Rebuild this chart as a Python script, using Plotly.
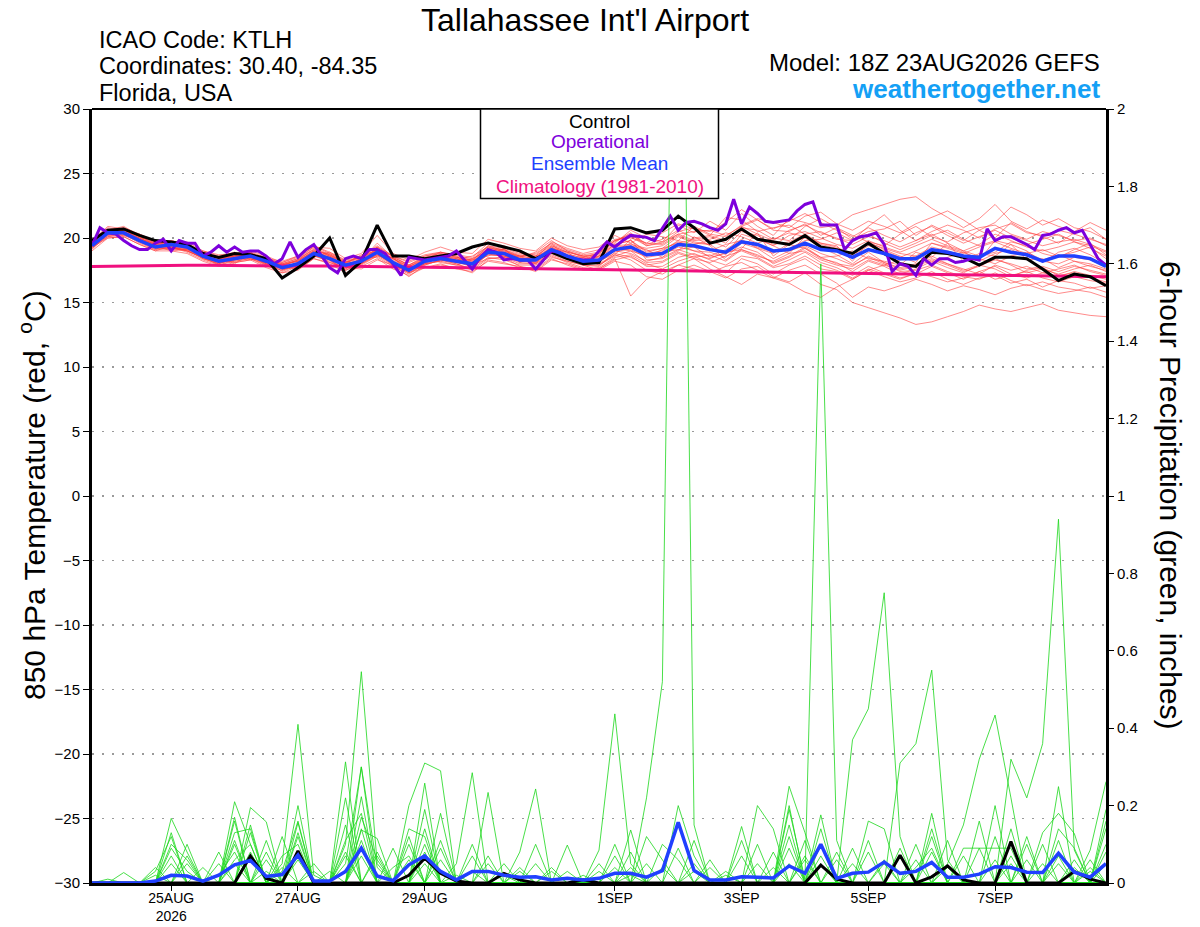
import plotly.graph_objects as go
import pandas as pd

FONT = "Liberation Sans, Arial, Helvetica, sans-serif"

# ---------------- time axes ----------------
times = pd.date_range("2026-08-23 18:00", periods=65, freq="6h")
times_3h = pd.date_range("2026-08-23 18:00", periods=129, freq="3h")
tick_dates = ["2026-08-25", "2026-08-27", "2026-08-29", "2026-09-01",
              "2026-09-03", "2026-09-05", "2026-09-07"]
tick_labels = ["25AUG<br>2026", "27AUG", "29AUG", "1SEP", "3SEP", "5SEP", "7SEP"]

# ---------------- 850 hPa temperature (deg C) ----------------
control_temp = [
    19.8, 20.6, 20.7, 20.2, 19.8, 19.7, 19.5, 18.8, 18.5, 18.8, 18.7, 18.4, 16.9,
    17.7, 18.6, 20.0, 17.1, 18.2, 21.0, 18.6, 18.6, 18.4, 18.6, 18.8, 19.3, 19.6,
    19.3, 19.0, 18.4, 18.9, 18.4, 18.0, 18.1, 20.7, 20.8, 20.4, 20.6, 21.7, 20.8,
    19.6, 19.9, 20.7, 19.9, 19.7, 19.5, 20.2, 19.3, 19.1, 18.8, 19.6, 18.8, 18.0,
    17.8, 18.9, 18.8, 18.5, 17.9, 18.5, 18.5, 18.4, 17.6, 16.7, 17.2, 17.0, 16.3]

mean_temp = [
    19.4, 20.4, 20.4, 19.8, 19.3, 19.5, 19.3, 18.6, 18.2, 18.4, 18.6, 18.2, 17.7,
    18.0, 18.8, 18.4, 17.9, 18.2, 18.9, 18.1, 17.5, 18.2, 18.4, 18.2, 18.0, 18.9,
    18.8, 18.3, 18.3, 19.1, 18.6, 18.2, 18.3, 19.1, 19.3, 18.7, 18.8, 19.5, 19.4,
    19.1, 18.9, 19.7, 19.5, 19.0, 19.1, 19.6, 19.1, 19.0, 18.5, 19.1, 18.8, 18.4,
    18.4, 19.1, 18.9, 18.6, 18.5, 19.2, 18.9, 18.7, 18.2, 18.6, 18.6, 18.4, 17.8]

# operational run, 3-hourly
operational_temp = [
    19.4, 20.8, 20.4, 20.3, 19.8, 19.4, 19.1, 19.1, 19.6, 19.9, 19.0, 19.8, 19.6,
    19.6, 18.6, 18.9, 19.4, 18.9, 19.3, 18.9, 19.0, 19.0, 18.6, 18.0, 18.4, 19.7,
    18.5, 19.1, 19.5, 18.6, 17.7, 17.3, 18.4, 18.6, 18.4, 19.1, 19.1, 18.8, 18.0,
    17.1, 18.5, 18.4, 18.3, 18.4, 18.5, 18.6, 19.0, 18.3, 17.6, 18.5, 19.1, 18.9,
    18.3, 18.4, 18.3, 18.3, 17.6, 18.3, 19.0, 18.9, 18.6, 18.4, 18.3, 18.3, 19.0,
    19.7, 19.3, 19.8, 20.2, 20.1, 20.05, 19.8, 20.8, 21.7, 20.6, 21.2, 21.3, 21.1,
    20.8, 20.6, 21.1, 23.0, 21.1, 22.4, 21.9, 21.3, 21.2, 21.3, 21.4, 22.1, 22.6,
    22.8, 21.0, 21.0, 21.0, 19.1, 19.8, 20.1, 20.2, 20.4, 19.5, 17.4, 18.0, 17.8,
    17.1, 18.4, 17.9, 18.4, 18.4, 18.1, 18.2, 18.4, 18.3, 20.7, 19.8, 20.1, 20.1,
    19.8, 19.5, 19.1, 20.2, 20.3, 20.6, 20.8, 20.4, 20.6, 19.5, 18.4, 17.9]

climatology_temp = [
    17.80, 17.82, 17.84, 17.85, 17.86, 17.87, 17.88, 17.88, 17.88, 17.88, 17.87, 17.86, 17.85,
    17.84, 17.83, 17.82, 17.81, 17.80, 17.78, 17.77, 17.75, 17.74, 17.72, 17.71, 17.69, 17.68,
    17.66, 17.64, 17.63, 17.61, 17.59, 17.57, 17.56, 17.54, 17.52, 17.50, 17.48, 17.46, 17.44,
    17.42, 17.40, 17.38, 17.36, 17.34, 17.33, 17.31, 17.29, 17.27, 17.25, 17.24, 17.22, 17.20,
    17.19, 17.17, 17.16, 17.14, 17.13, 17.11, 17.10, 17.08, 17.07, 17.05, 17.04, 17.02, 17.00]

member_temps = [
    [19.6, 20.5, 20.6, 20.0, 19.5, 19.3, 19.0, 18.5, 18.0, 18.6, 18.9, 18.0, 17.8,
     18.3, 19.1, 18.6, 17.8, 18.4, 19.2, 18.3, 17.6, 18.0, 18.6, 18.5, 18.2, 19.4,
     19.0, 18.6, 18.0, 19.4, 18.9, 18.0, 18.6, 19.5, 19.8, 19.0, 19.2, 20.1, 19.6,
     19.5, 18.7, 20.3, 19.9, 19.4, 18.8, 20.1, 19.6, 19.4, 18.2, 19.7, 19.1, 18.6,
     18.1, 19.6, 19.3, 18.9, 18.3, 19.8, 19.5, 19.0, 18.1, 18.9, 19.2, 18.7, 18.0],
    [19.2, 20.2, 20.3, 19.6, 19.1, 19.8, 19.5, 18.9, 18.4, 18.1, 18.3, 18.5, 17.6,
     17.7, 18.5, 18.9, 18.2, 17.9, 18.6, 18.5, 17.4, 18.5, 18.1, 17.9, 18.3, 18.6,
     19.2, 18.1, 18.6, 18.8, 18.3, 18.5, 17.9, 18.7, 19.9, 18.3, 18.4, 19.0, 20.1,
     19.4, 18.3, 19.2, 20.4, 18.6, 19.5, 19.2, 18.5, 18.6, 19.0, 18.4, 18.2, 17.9,
     18.9, 18.5, 19.6, 18.2, 18.8, 18.6, 19.5, 18.3, 18.4, 17.7, 18.2, 18.0, 17.6],
    [19.8, 20.8, 20.5, 19.9, 19.6, 19.4, 19.6, 18.7, 18.3, 18.7, 18.6, 18.4, 17.9,
     18.2, 19.0, 18.3, 17.5, 18.0, 19.3, 18.0, 17.8, 18.3, 18.9, 18.6, 17.7, 19.1,
     18.5, 18.6, 18.8, 19.6, 18.4, 18.2, 18.9, 19.8, 20.3, 19.4, 19.6, 20.5, 20.8,
     20.2, 19.8, 20.9, 21.4, 20.6, 20.5, 21.1, 20.2, 20.8, 19.9, 20.5, 20.7, 21.3,
     20.2, 21.0, 20.4, 19.8, 20.6, 20.0, 21.2, 20.5, 20.1, 19.6, 20.4, 20.8, 19.9],
    [19.4, 20.1, 20.2, 19.7, 19.2, 19.1, 19.2, 18.4, 18.1, 18.2, 18.4, 17.8, 17.5,
     18.0, 18.7, 18.1, 17.6, 18.5, 18.5, 17.8, 17.2, 18.0, 18.2, 18.4, 17.9, 18.4,
     18.5, 17.8, 17.6, 18.5, 18.2, 17.9, 17.5, 18.2, 17.9, 17.0, 16.8, 17.5, 17.9,
     17.4, 16.9, 17.6, 17.8, 17.0, 16.6, 17.3, 16.4, 16.0, 15.0, 14.6, 14.2, 13.8,
     13.3, 13.5, 13.9, 14.3, 14.8, 14.5, 14.3, 14.6, 14.9, 14.4, 14.2, 14.0, 13.9],
    [19.5, 20.6, 20.9, 20.2, 19.4, 19.0, 19.1, 18.8, 18.5, 18.0, 18.8, 18.3, 17.4,
     17.9, 18.8, 18.5, 18.0, 18.7, 19.0, 18.4, 17.6, 18.2, 18.7, 18.1, 18.4, 19.0,
     19.1, 18.4, 18.5, 19.2, 18.9, 18.6, 18.2, 19.3, 19.4, 19.1, 18.5, 19.5, 19.0,
     18.6, 19.1, 19.9, 19.2, 18.8, 19.6, 20.0, 19.3, 18.7, 18.0, 18.9, 18.1, 17.6,
     17.9, 18.6, 18.0, 17.6, 17.2, 17.9, 17.5, 17.8, 17.3, 17.6, 17.9, 17.4, 17.1],
    [19.7, 20.3, 20.7, 20.1, 19.7, 19.6, 19.4, 18.6, 18.3, 18.6, 18.5, 18.1, 18.0,
     18.4, 19.3, 18.7, 18.0, 18.3, 19.6, 18.5, 17.9, 18.4, 18.6, 18.3, 18.6, 19.3,
     18.9, 18.5, 18.9, 19.8, 19.0, 18.5, 18.8, 19.7, 20.4, 19.5, 19.9, 20.6, 20.0,
     20.2, 21.6, 21.4, 20.5, 20.8, 21.0, 20.3, 20.5, 19.9, 19.8, 20.9, 21.8, 20.6,
     19.8, 20.3, 19.6, 19.0, 18.6, 18.9, 19.7, 19.4, 18.8, 18.5, 19.1, 19.6, 18.7],
    [19.3, 20.0, 20.1, 19.5, 19.0, 19.4, 19.0, 18.5, 17.9, 18.2, 18.4, 18.0, 17.8,
     17.6, 18.4, 18.1, 17.7, 17.6, 18.3, 17.9, 17.3, 17.7, 18.0, 17.6, 17.4, 18.2,
     18.0, 17.8, 17.4, 18.3, 18.0, 17.6, 17.7, 18.5, 18.7, 18.0, 17.6, 18.2, 18.6,
     18.0, 17.3, 18.4, 18.0, 17.2, 17.9, 18.4, 17.6, 17.4, 16.8, 17.5, 17.0, 16.6,
     16.9, 17.4, 16.8, 16.4, 16.9, 17.1, 16.5, 16.8, 16.2, 16.7, 16.5, 16.1, 16.3],
    [19.9, 20.7, 20.4, 20.3, 19.8, 19.5, 19.7, 19.0, 18.6, 18.9, 18.3, 18.4, 18.2,
     18.6, 19.4, 18.9, 18.3, 18.5, 19.1, 18.6, 18.2, 18.7, 18.9, 18.7, 18.5, 19.6,
     19.4, 18.9, 18.4, 19.7, 19.2, 18.8, 19.1, 19.9, 20.0, 19.6, 19.5, 20.3, 19.8,
     19.9, 20.4, 20.1, 19.6, 20.0, 19.8, 20.9, 21.5, 20.8, 20.2, 19.7, 19.4, 20.3,
     20.9, 20.1, 19.7, 20.4, 20.8, 21.0, 20.3, 19.9, 20.5, 20.2, 19.8, 20.0, 19.4],
    [19.1, 20.4, 20.8, 19.8, 19.3, 19.3, 18.9, 18.3, 17.9, 18.3, 18.6, 17.9, 17.3,
     17.8, 18.9, 18.4, 17.9, 18.0, 18.8, 17.9, 17.0, 17.9, 18.3, 18.0, 17.6, 18.8,
     18.7, 18.3, 18.2, 19.0, 18.6, 17.9, 17.8, 18.9, 19.2, 18.6, 18.9, 19.1, 19.3,
     18.5, 18.8, 19.3, 18.9, 18.0, 18.5, 19.2, 18.4, 18.1, 17.4, 18.2, 17.8, 17.2,
     17.6, 18.2, 17.7, 17.3, 17.9, 17.6, 17.0, 17.5, 17.7, 17.1, 17.3, 16.9, 16.6],
    [19.6, 20.6, 20.5, 20.0, 19.4, 19.6, 19.3, 18.7, 18.2, 18.5, 18.7, 18.3, 17.7,
     18.1, 18.6, 18.4, 17.8, 18.2, 18.9, 18.2, 17.5, 18.1, 18.4, 18.2, 18.0, 19.0,
     18.8, 18.4, 18.3, 19.1, 18.6, 18.3, 18.4, 19.0, 19.6, 18.8, 19.0, 19.8, 19.5,
     19.8, 19.3, 20.5, 20.2, 19.5, 19.7, 20.3, 19.6, 19.3, 18.7, 19.6, 19.2, 18.8,
     18.6, 19.3, 19.0, 18.6, 18.2, 18.8, 19.1, 18.6, 18.2, 18.0, 18.5, 18.3, 17.8],
    [19.5, 20.4, 20.6, 20.1, 19.6, 19.5, 19.4, 18.8, 18.4, 18.7, 18.9, 18.2, 17.9,
     18.2, 19.0, 18.8, 18.1, 18.6, 19.4, 18.6, 17.9, 18.6, 18.8, 18.5, 18.3, 19.3,
     19.1, 18.7, 18.6, 19.4, 18.9, 18.6, 18.7, 19.6, 20.6, 20.0, 19.7, 21.0, 20.4,
     21.3, 20.6, 21.9, 20.9, 20.2, 21.5, 21.2, 20.8, 21.0, 21.8, 22.2, 22.6, 23.0,
     23.2, 22.3, 21.6, 20.8, 21.5, 22.6, 21.3, 20.7, 21.4, 20.9, 20.5, 21.2, 20.6],
    [19.3, 20.3, 20.2, 19.9, 19.2, 19.2, 19.1, 18.4, 18.0, 18.4, 18.5, 18.1, 17.6,
     18.0, 18.6, 18.2, 17.6, 18.1, 18.7, 18.0, 17.4, 18.0, 18.3, 18.1, 17.8, 18.7,
     18.6, 18.2, 18.1, 18.9, 18.4, 18.0, 18.2, 18.8, 18.5, 17.9, 18.1, 18.8, 18.4,
     18.1, 18.6, 19.0, 18.5, 17.8, 18.3, 18.9, 18.1, 17.7, 17.1, 17.8, 17.3, 16.9,
     17.2, 17.8, 17.3, 16.8, 17.4, 17.8, 17.2, 16.9, 17.3, 17.0, 17.4, 17.1, 16.8],
    [19.4, 20.2, 20.4, 19.8, 19.3, 19.3, 19.0, 18.5, 18.1, 18.3, 18.5, 18.0, 17.6,
     17.9, 18.7, 18.3, 17.7, 18.0, 18.6, 17.9, 17.3, 18.0, 18.2, 17.9, 17.6, 18.5,
     18.3, 17.9, 17.9, 18.6, 18.1, 17.7, 17.6, 18.4, 15.5, 16.8, 17.4, 17.9, 18.4,
     17.6, 17.0, 16.4, 17.2, 16.9, 17.5, 17.9, 17.2, 16.5, 15.4, 16.2, 15.9, 16.3,
     16.8, 16.4, 15.9, 16.3, 16.0, 15.6, 16.1, 16.4, 16.0, 15.7, 15.9, 16.2, 15.8],
    [19.8, 20.9, 20.7, 20.2, 19.8, 19.7, 19.5, 19.0, 18.7, 18.8, 19.0, 18.6, 18.1,
     18.5, 19.3, 19.2, 18.4, 18.8, 20.2, 18.8, 18.3, 18.9, 19.3, 18.9, 18.8, 19.9,
     19.6, 19.2, 19.0, 20.0, 19.4, 19.1, 19.3, 20.2, 19.6, 20.3, 20.1, 19.8, 20.9,
     20.3, 20.1, 21.0, 21.5, 21.2, 20.8, 21.7, 22.0, 21.1, 20.6, 21.3, 20.9, 20.4,
     21.1, 21.6, 22.1, 21.4, 20.6, 21.2, 22.4, 21.8, 21.0, 21.5, 20.8, 20.5, 19.9],
    [19.0, 20.0, 20.1, 19.5, 19.0, 19.0, 18.8, 18.2, 17.8, 18.1, 18.3, 17.7, 17.3,
     17.5, 18.4, 18.0, 17.3, 17.8, 18.4, 17.6, 17.1, 17.7, 17.9, 17.7, 17.3, 18.3,
     18.1, 17.7, 17.5, 18.4, 17.9, 17.5, 17.6, 18.3, 18.6, 17.8, 17.8, 18.5, 18.8,
     18.3, 17.9, 18.6, 18.4, 17.7, 18.0, 18.6, 17.9, 17.5, 16.9, 17.6, 17.2, 16.8,
     17.3, 17.0, 16.6, 16.9, 17.4, 16.8, 17.1, 17.4, 16.9, 16.6, 17.0, 16.7, 16.5],
    [19.6, 20.5, 20.3, 20.0, 19.5, 19.4, 19.2, 18.8, 18.3, 18.5, 18.8, 18.2, 17.9,
     18.3, 19.2, 18.6, 18.1, 18.4, 19.0, 18.4, 17.8, 18.4, 18.7, 18.4, 18.1, 19.2,
     19.0, 18.5, 18.3, 19.3, 18.8, 18.4, 18.5, 19.4, 19.5, 19.2, 19.4, 20.2, 19.7,
     19.5, 19.9, 20.6, 20.0, 19.4, 20.2, 20.5, 20.0, 19.5, 19.2, 19.8, 19.3, 18.9,
     19.4, 19.9, 19.4, 19.0, 19.5, 20.3, 19.8, 19.3, 19.0, 19.3, 19.7, 19.2, 18.6],
    [19.2, 20.1, 20.4, 19.7, 19.1, 19.2, 19.0, 18.4, 18.0, 18.4, 18.4, 17.9, 17.5,
     17.9, 18.7, 18.3, 17.5, 18.0, 18.7, 18.1, 17.3, 17.9, 18.3, 18.0, 17.5, 18.4,
     18.5, 18.0, 18.0, 18.7, 18.2, 17.9, 17.9, 18.6, 19.0, 18.1, 18.2, 18.9, 18.5,
     18.7, 18.2, 19.1, 18.7, 18.1, 18.6, 19.3, 18.5, 18.0, 17.8, 18.6, 18.1, 17.7,
     18.0, 18.4, 18.0, 17.5, 17.9, 18.3, 18.0, 17.6, 17.8, 17.4, 17.8, 17.5, 17.2],
    [19.7, 20.6, 20.8, 20.3, 19.7, 19.6, 19.5, 18.9, 18.5, 18.8, 18.7, 18.3, 18.1,
     18.6, 19.4, 18.8, 18.2, 18.5, 19.3, 18.6, 18.1, 18.6, 18.9, 18.6, 18.4, 19.4,
     19.2, 18.8, 18.7, 19.6, 19.1, 18.7, 18.9, 19.8, 20.2, 19.6, 20.4, 21.1, 20.7,
     20.5, 21.2, 22.2, 21.4, 20.7, 21.3, 21.9, 21.2, 20.6, 20.1, 20.8, 20.2, 19.7,
     20.4, 20.9, 20.2, 19.6, 20.1, 20.6, 20.0, 19.5, 19.9, 20.3, 19.7, 19.4, 18.9],
    [19.5, 20.3, 20.5, 19.9, 19.4, 19.3, 19.2, 18.6, 18.2, 18.5, 18.6, 18.0, 17.7,
     18.0, 18.8, 18.5, 17.8, 18.2, 18.8, 18.1, 17.6, 18.2, 18.4, 18.2, 18.0, 18.9,
     18.7, 18.2, 18.2, 19.0, 18.5, 18.1, 18.3, 19.1, 19.1, 18.5, 18.7, 19.3, 19.0,
     18.9, 18.5, 19.6, 19.2, 18.4, 19.0, 19.4, 18.8, 18.4, 17.9, 18.5, 18.0, 17.4,
     17.5, 17.9, 17.4, 17.0, 16.8, 17.3, 16.7, 16.3, 16.6, 16.2, 16.0, 15.8, 15.4],
    [19.8, 20.4, 20.6, 20.2, 19.7, 19.8, 19.5, 18.9, 18.5, 18.6, 18.9, 18.5, 18.0,
     18.2, 19.0, 18.7, 18.1, 18.5, 19.0, 18.4, 17.7, 18.3, 18.6, 18.4, 18.2, 19.1,
     18.9, 18.6, 18.4, 19.2, 18.7, 18.5, 18.6, 19.5, 19.8, 18.9, 19.2, 19.6, 19.9,
     20.1, 19.6, 20.8, 20.6, 19.9, 20.4, 20.1, 19.5, 19.2, 18.6, 19.4, 19.0, 18.5,
     19.0, 19.6, 19.2, 18.8, 19.3, 19.7, 19.2, 18.8, 19.1, 18.6, 18.9, 19.3, 18.4],
    [19.6, 20.5, 20.5, 19.9, 19.5, 19.6, 19.2, 18.7, 18.3, 18.6, 18.5, 18.1, 17.9,
     18.3, 18.9, 18.6, 18.0, 18.3, 19.1, 18.4, 17.8, 18.3, 18.6, 18.3, 18.1, 19.0,
     18.9, 18.4, 18.5, 19.3, 18.6, 18.3, 18.6, 19.2, 19.0, 18.6, 19.1, 19.7, 19.3,
     19.0, 19.5, 19.8, 19.3, 18.9, 19.2, 19.8, 19.9, 20.4, 19.8, 20.3, 19.6, 19.1,
     19.6, 20.2, 20.6, 19.9, 19.4, 19.8, 20.2, 19.8, 19.4, 19.7, 19.9, 19.5, 19.0],
    [19.3, 20.3, 20.6, 20.0, 19.3, 19.2, 19.1, 18.6, 18.1, 18.3, 18.7, 18.2, 17.6,
     17.9, 18.8, 18.5, 17.8, 18.1, 18.9, 18.2, 17.5, 18.1, 18.5, 18.2, 17.8, 18.8,
     18.6, 18.1, 18.0, 18.9, 18.5, 18.0, 18.1, 19.0, 18.8, 18.2, 18.5, 19.1, 18.7,
     18.4, 18.9, 19.1, 18.6, 18.2, 18.8, 19.0, 18.3, 17.9, 17.6, 18.3, 17.9, 17.5,
     17.8, 18.3, 17.9, 17.4, 17.8, 18.4, 17.9, 17.3, 17.6, 17.2, 17.6, 17.9, 17.4],
    [19.5, 20.4, 20.3, 19.8, 19.3, 19.4, 19.3, 18.7, 18.2, 18.4, 18.6, 18.1, 17.7,
     18.1, 18.9, 18.5, 17.7, 18.2, 18.7, 18.0, 17.6, 18.2, 18.5, 18.1, 17.9, 18.7,
     18.6, 18.3, 18.1, 19.0, 18.5, 18.1, 18.0, 18.7, 18.3, 17.5, 17.2, 17.9, 17.6,
     17.3, 17.8, 18.1, 17.5, 16.9, 16.5, 15.8, 15.4, 16.2, 16.8, 17.5, 17.9, 18.3,
     18.6, 18.1, 18.5, 18.9, 18.4, 18.0, 18.6, 18.9, 18.3, 18.7, 18.2, 17.8, 17.5],
    [19.7, 20.6, 20.7, 20.1, 19.6, 19.5, 19.4, 18.8, 18.4, 18.6, 18.8, 18.4, 18.0,
     18.4, 19.1, 18.7, 18.1, 18.6, 19.3, 18.5, 17.9, 18.5, 18.8, 18.5, 18.3, 19.2,
     19.1, 18.6, 18.6, 19.5, 19.0, 18.6, 18.8, 19.8, 20.1, 19.4, 19.7, 20.3, 20.5,
     20.6, 20.2, 20.9, 20.3, 19.8, 20.6, 21.0, 20.4, 20.0, 19.5, 20.1, 19.8, 19.3,
     19.8, 20.5, 21.0, 20.6, 20.0, 20.7, 21.1, 20.4, 20.2, 20.6, 20.3, 19.9, 19.5],
]

# ---------------- 6-hour precipitation (inches) ----------------
control_precip = [
    0, 0, 0, 0, 0, 0, 0, 0, 0, 0, 0.07, 0.012, 0,
    0.083, 0, 0, 0, 0, 0, 0, 0.02, 0.064, 0.025, 0.005, 0, 0,
    0.025, 0.008, 0, 0, 0, 0.008, 0, 0, 0, 0, 0, 0, 0,
    0, 0, 0, 0, 0, 0, 0, 0.046, 0.01, 0, 0, 0, 0.072,
    0, 0.016, 0.044, 0.008, 0, 0, 0.107, 0, 0, 0, 0.03, 0.01, 0]

mean_precip = [
    0, 0, 0, 0, 0.005, 0.02, 0.018, 0.005, 0.02, 0.047, 0.058, 0.017, 0.022,
    0.072, 0.005, 0.005, 0.03, 0.09, 0.018, 0.006, 0.047, 0.07, 0.03, 0.008, 0.03, 0.03,
    0.02, 0.015, 0.016, 0.008, 0.012, 0.008, 0.012, 0.025, 0.025, 0.015, 0.032, 0.157, 0.032,
    0.008, 0.008, 0.016, 0.015, 0.013, 0.044, 0.025, 0.1, 0.012, 0.025, 0.028, 0.054, 0.025,
    0.03, 0.053, 0.015, 0.015, 0.023, 0.042, 0.04, 0.028, 0.027, 0.077, 0.028, 0.015, 0.05]

Z13 = [0] * 13  # a row of 13 dry six-hour periods

member_precip = [
    Z13 + [0.08, 0, 0, 0, 0.14, 0, 0, 0, 0.05, 0, 0, 0, 0]
        + [0, 0, 0, 0, 0, 0, 0, 0, 0, 0.22, 0.52, 3.4, 0.15] + Z13 + Z13,
    [0, 0, 0, 0, 0, 0, 0, 0, 0, 0.21, 0.1, 0, 0] + Z13
        + [0, 0, 0.05, 0, 0, 0, 0, 0, 0, 0, 0, 0, 0]
        + [0, 0, 0, 0, 0, 0.19, 0.01, 1.6, 0.11, 0, 0, 0, 0] + Z13,
    [0, 0, 0, 0, 0, 0, 0, 0, 0, 0, 0, 0, 0.05]
        + [0.41, 0.02, 0, 0, 0, 0, 0, 0, 0, 0, 0, 0, 0] + Z13
        + [0, 0, 0, 0, 0, 0, 0, 0, 0, 0.37, 0.45, 0.75, 0.12] + Z13,
    Z13 + [0, 0, 0, 0.05, 0.3, 0.04, 0, 0, 0, 0, 0, 0, 0] + Z13 + Z13
        + [0, 0, 0, 0, 0, 0, 0.32, 0.22, 0.36, 0.94, 0.085, 0, 0],
    Z13 + [0, 0, 0, 0.1, 0.546, 0.05, 0, 0, 0, 0, 0, 0, 0] + Z13
        + [0, 0, 0, 0, 0, 0, 0, 0, 0, 0, 0, 0, 0.31]
        + [0.36, 0.55, 0.06, 0, 0, 0, 0, 0, 0, 0, 0, 0, 0],
    Z13 + Z13 + [0, 0, 0, 0, 0, 0, 0.085, 0.437, 0.05, 0, 0, 0, 0] + Z13
        + [0, 0, 0.05, 0.15, 0.32, 0.434, 0.22, 0, 0, 0, 0, 0, 0],
    [0, 0, 0, 0, 0, 0.167, 0.08, 0, 0, 0, 0, 0, 0]
        + [0, 0, 0, 0, 0, 0, 0, 0.2, 0.31, 0.29, 0, 0, 0] + Z13
        + [0, 0, 0, 0, 0, 0.25, 0.13, 0, 0, 0, 0, 0, 0] + Z13,
    Z13 + [0, 0, 0, 0, 0, 0, 0, 0, 0, 0, 0.05, 0.285, 0] + Z13
        + [0, 0, 0.146, 0, 0, 0, 0, 0, 0, 0, 0, 0, 0]
        + [0, 0, 0, 0, 0, 0, 0, 0, 0, 0, 0, 0.085, 0.262],
    Z13 + [0, 0, 0, 0.313, 0, 0, 0, 0, 0, 0, 0, 0, 0.234]
        + [0, 0.08, 0.243, 0, 0, 0, 0, 0, 0, 0, 0, 0, 0]
        + [0, 0, 0, 0.2, 0.14, 0, 0, 0, 0, 0, 0, 0, 0] + Z13,
    [0, 0, 0, 0, 0, 0, 0, 0, 0, 0, 0.195, 0.158, 0]
        + [0.2, 0, 0, 0, 0, 0, 0, 0, 0, 0, 0, 0, 0] + Z13 + Z13
        + [0, 0, 0, 0, 0, 0, 0, 0, 0, 0.249, 0, 0, 0.141],
    [0, 0, 0.027, 0, 0, 0, 0, 0, 0, 0.1, 0, 0, 0]
        + [0, 0, 0, 0, 0.3, 0, 0, 0, 0, 0, 0, 0, 0]
        + [0, 0, 0, 0, 0.098, 0, 0, 0, 0, 0, 0, 0, 0] + Z13
        + [0, 0, 0, 0, 0, 0, 0, 0, 0.13, 0.18, 0.128, 0, 0],
    Z13 + [0.156, 0, 0, 0, 0.223, 0, 0, 0, 0.258, 0, 0, 0, 0]
        + [0, 0, 0, 0, 0, 0, 0, 0, 0.137, 0, 0, 0, 0] + Z13
        + [0, 0.18, 0, 0, 0.09, 0, 0, 0, 0, 0, 0, 0, 0],
    Z13 + [0, 0, 0, 0, 0.137, 0.115, 0, 0, 0, 0.11, 0, 0, 0]
        + [0, 0, 0, 0, 0, 0, 0, 0, 0, 0, 0, 0, 0.11]
        + [0, 0, 0, 0, 0, 0, 0, 0.176, 0, 0, 0, 0, 0]
        + [0, 0, 0, 0, 0, 0, 0, 0.1, 0, 0, 0, 0, 0],
    [0, 0, 0, 0, 0, 0.1, 0.06, 0, 0.05, 0, 0, 0, 0.12]
        + [0, 0, 0, 0, 0, 0, 0, 0.12, 0, 0.06, 0, 0, 0]
        + [0, 0, 0, 0, 0, 0, 0, 0, 0, 0, 0.04, 0, 0]
        + [0, 0, 0, 0, 0, 0, 0, 0, 0.08, 0, 0, 0, 0]
        + [0, 0, 0, 0.09, 0.09, 0.09, 0.09, 0, 0, 0, 0, 0, 0],
    [0, 0, 0, 0, 0, 0, 0, 0, 0, 0.13, 0.14, 0, 0]
        + [0, 0.03, 0, 0, 0, 0, 0.09, 0, 0, 0, 0, 0, 0.07] + Z13
        + [0.04, 0, 0, 0, 0, 0, 0, 0, 0, 0, 0.08, 0, 0]
        + [0.1, 0, 0, 0, 0, 0, 0, 0, 0, 0, 0, 0, 0.08],
    [0, 0, 0, 0, 0.03, 0.12, 0, 0.04, 0, 0, 0, 0.08, 0]
        + [0, 0, 0, 0.15, 0, 0, 0, 0, 0, 0, 0, 0, 0]
        + [0.05, 0, 0, 0, 0, 0, 0, 0.04, 0, 0, 0, 0, 0]
        + [0, 0, 0, 0, 0, 0.15, 0, 0, 0, 0, 0, 0.06, 0]
        + [0, 0, 0.04, 0, 0, 0.2, 0, 0, 0, 0, 0, 0, 0],
    [0, 0, 0, 0, 0, 0, 0.1, 0, 0, 0.16, 0, 0, 0]
        + [0.12, 0, 0, 0, 0.09, 0, 0, 0, 0.19, 0, 0, 0, 0]
        + [0, 0, 0, 0.04, 0, 0, 0, 0, 0, 0.05, 0, 0, 0]
        + [0, 0, 0, 0, 0, 0, 0.06, 0, 0, 0, 0, 0, 0]
        + [0, 0.12, 0, 0, 0, 0, 0, 0, 0.05, 0, 0, 0, 0],
    [0, 0, 0, 0, 0, 0.07, 0, 0, 0, 0, 0.08, 0, 0.04]
        + [0, 0, 0, 0.22, 0, 0.08, 0, 0, 0, 0, 0, 0.03, 0]
        + [0, 0, 0, 0, 0, 0, 0.03, 0, 0, 0, 0, 0, 0]
        + [0, 0, 0.07, 0, 0, 0, 0, 0.1, 0, 0, 0, 0, 0]
        + [0, 0, 0, 0, 0, 0, 0.05, 0, 0, 0, 0, 0.04, 0],
    [0, 0, 0, 0, 0, 0, 0, 0, 0.02, 0.08, 0, 0, 0]
        + [0.07, 0, 0, 0, 0, 0, 0, 0.1, 0, 0, 0.02, 0, 0]
        + [0, 0, 0, 0, 0, 0.02, 0, 0, 0, 0, 0, 0.09, 0]
        + [0, 0, 0, 0, 0.04, 0, 0, 0, 0, 0.05, 0, 0, 0.09]
        + [0, 0, 0, 0, 0, 0, 0, 0, 0, 0.07, 0, 0, 0.05],
    [0, 0, 0, 0, 0, 0, 0.05, 0, 0, 0, 0, 0.06, 0]
        + [0, 0, 0.03, 0, 0, 0, 0, 0, 0.1, 0, 0, 0, 0]
        + [0, 0.03, 0, 0, 0, 0, 0, 0, 0.02, 0, 0, 0, 0]
        + [0, 0.03, 0, 0, 0, 0.12, 0, 0, 0, 0, 0.11, 0, 0]
        + [0, 0.08, 0, 0, 0, 0, 0, 0.06, 0, 0, 0.04, 0, 0],
    [0, 0, 0, 0, 0.04, 0, 0, 0, 0, 0.06, 0.1, 0, 0]
        + [0, 0, 0, 0, 0.07, 0, 0, 0.14, 0.12, 0, 0, 0, 0]
        + [0, 0, 0, 0, 0, 0, 0, 0.07, 0, 0, 0, 0, 0.03]
        + [0, 0, 0, 0, 0, 0.09, 0, 0.05, 0, 0, 0, 0, 0]
        + [0, 0.14, 0, 0, 0, 0, 0, 0, 0, 0.11, 0, 0, 0.1],
    [0, 0, 0, 0, 0, 0.09, 0.03, 0, 0, 0, 0, 0, 0.07]
        + [0.1, 0, 0, 0.08, 0, 0, 0, 0, 0, 0.18, 0, 0.1, 0]
        + [0, 0, 0, 0, 0, 0, 0, 0, 0.08, 0, 0, 0, 0]
        + [0, 0, 0, 0.1, 0, 0, 0.07, 0, 0, 0, 0, 0, 0]
        + [0.06, 0, 0, 0, 0, 0.12, 0, 0, 0, 0, 0, 0.03, 0],
    [0, 0.01, 0, 0, 0, 0, 0, 0, 0, 0.05, 0, 0.11, 0]
        + [0, 0, 0, 0, 0.17, 0.06, 0, 0, 0, 0, 0, 0, 0]
        + [0, 0, 0.1, 0, 0.03, 0, 0, 0, 0, 0.12, 0.06, 0, 0]
        + [0, 0, 0, 0, 0, 0.05, 0, 0, 0, 0, 0.16, 0.14, 0]
        + [0, 0, 0, 0, 0, 0, 0.14, 0, 0, 0, 0.06, 0, 0],
    [0, 0, 0, 0, 0, 0.05, 0, 0, 0, 0, 0.15, 0, 0]
        + [0.13, 0, 0, 0.07, 0, 0, 0, 0, 0.08, 0, 0, 0, 0.05]
        + [0, 0, 0, 0, 0, 0, 0, 0, 0, 0, 0, 0.2, 0.07]
        + [0, 0, 0.11, 0, 0, 0, 0, 0, 0.06, 0, 0, 0, 0]
        + [0, 0, 0.11, 0, 0, 0, 0, 0.12, 0, 0, 0, 0, 0.16],
    [0, 0, 0, 0, 0, 0, 0.07, 0, 0, 0.17, 0, 0, 0]
        + [0, 0.05, 0, 0, 0.11, 0, 0.04, 0.07, 0, 0, 0, 0, 0]
        + [0.02, 0, 0, 0, 0, 0, 0.05, 0, 0, 0, 0, 0, 0]
        + [0.06, 0, 0, 0, 0.08, 0, 0, 0.14, 0, 0, 0, 0, 0.07]
        + [0, 0, 0, 0, 0.16, 0, 0, 0, 0, 0.05, 0, 0, 0],
    [0, 0, 0, 0, 0.02, 0, 0, 0, 0.08, 0, 0.13, 0, 0]
        + [0.06, 0, 0, 0, 0, 0, 0, 0, 0, 0.09, 0, 0, 0]
        + [0, 0.04, 0, 0, 0, 0, 0, 0.1, 0, 0, 0, 0, 0]
        + [0, 0.02, 0, 0, 0, 0.2, 0, 0, 0, 0.09, 0, 0, 0]
        + [0, 0, 0, 0.07, 0, 0, 0, 0, 0.1, 0, 0, 0.06, 0],
    [0, 0, 0, 0, 0, 0.13, 0, 0, 0, 0, 0, 0.03, 0]
        + [0, 0, 0, 0.11, 0.18, 0, 0, 0, 0.14, 0, 0, 0, 0]
        + [0, 0, 0, 0.03, 0, 0, 0, 0, 0, 0, 0.1, 0.06, 0]
        + [0, 0, 0, 0, 0, 0, 0.11, 0, 0, 0, 0, 0, 0]
        + [0.04, 0.09, 0, 0, 0, 0, 0.07, 0, 0, 0, 0, 0, 0.19],
    [0, 0, 0, 0, 0, 0, 0, 0, 0, 0.11, 0, 0, 0.03]
        + [0.16, 0, 0, 0, 0, 0.07, 0, 0.06, 0, 0, 0, 0.07, 0]
        + [0, 0, 0, 0, 0, 0, 0, 0, 0.04, 0, 0, 0, 0.05]
        + [0, 0, 0, 0.05, 0, 0, 0, 0.07, 0, 0, 0, 0.05, 0]
        + [0, 0, 0, 0, 0, 0.06, 0, 0, 0, 0.14, 0.09, 0, 0],
]

# ---------------- colours ----------------
RED = "rgba(255,60,60,0.75)"
GREEN = "rgba(30,215,30,0.9)"
PURPLE = "#7d00dc"
BLUE = "#2040ff"
PINK = "#f0107f"

fig = go.Figure()

for m in member_temps:
    fig.add_trace(go.Scatter(x=times[:len(m)], y=m, mode="lines",
                             line=dict(color=RED, width=0.8), yaxis="y"))
fig.add_trace(go.Scatter(x=times[:len(climatology_temp)], y=climatology_temp, mode="lines",
                         line=dict(color=PINK, width=3), yaxis="y"))
fig.add_trace(go.Scatter(x=times[:len(control_temp)], y=control_temp, mode="lines",
                         line=dict(color="black", width=3), yaxis="y"))
fig.add_trace(go.Scatter(x=times_3h[:len(operational_temp)], y=operational_temp, mode="lines",
                         line=dict(color=PURPLE, width=3), yaxis="y"))
fig.add_trace(go.Scatter(x=times[:len(mean_temp)], y=mean_temp, mode="lines",
                         line=dict(color=BLUE, width=3.5), yaxis="y"))

for m in member_precip:
    fig.add_trace(go.Scatter(x=times[:len(m)], y=m, mode="lines",
                             line=dict(color=GREEN, width=0.9), yaxis="y2"))
fig.add_trace(go.Scatter(x=times[:len(control_precip)], y=control_precip, mode="lines",
                         line=dict(color="black", width=3), yaxis="y2"))
fig.add_trace(go.Scatter(x=times[:len(mean_precip)], y=mean_precip, mode="lines",
                         line=dict(color=BLUE, width=3.5), yaxis="y2"))

# plot area in page pixels
PL, PR, PT, PB = 92, 1106, 109, 883
W = PR - PL
H = PB - PT


def px(x):
    return (x - PL) / W


def py(y):
    return (PB - y) / H


annotations = [
    dict(text="Tallahassee Int'l Airport", x=px(585), y=py(20), xanchor="center",
         yanchor="middle", font=dict(size=32)),
    dict(text="ICAO Code: KTLH", x=px(97), y=py(40), xanchor="left", yanchor="middle",
         font=dict(size=23.5)),
    dict(text="Coordinates: 30.40, -84.35", x=px(97), y=py(66), xanchor="left",
         yanchor="middle", font=dict(size=23.5)),
    dict(text="Florida, USA", x=px(97), y=py(93), xanchor="left", yanchor="middle",
         font=dict(size=23.5)),
    dict(text="Model: 18Z 23AUG2026 GEFS", x=px(1102), y=py(63), xanchor="right",
         yanchor="middle", font=dict(size=24)),
    dict(text="<b>weathertogether.net</b>", x=px(1102), y=py(89), xanchor="right",
         yanchor="middle", font=dict(size=26, color="#14a0f5")),
    dict(text="850 hPa Temperature (red, <sup>o</sup>C)", x=px(32), y=py(495),
         xanchor="center", yanchor="middle", textangle=-90, font=dict(size=30)),
    dict(text="6-hour Precipitation (green, inches)", x=px(1170), y=py(495),
         xanchor="center", yanchor="middle", textangle=90, font=dict(size=30)),
    dict(text="Control", x=px(599.5), y=py(121), xanchor="center", yanchor="middle",
         font=dict(size=19, color="black")),
    dict(text="Operational", x=px(599.5), y=py(142), xanchor="center", yanchor="middle",
         font=dict(size=19, color=PURPLE)),
    dict(text="Ensemble Mean", x=px(599.5), y=py(163.5), xanchor="center",
         yanchor="middle", font=dict(size=19, color=BLUE)),
    dict(text="Climatology (1981-2010)", x=px(599.5), y=py(186), xanchor="center",
         yanchor="middle", font=dict(size=19, color=PINK)),
]
for a in annotations:
    a.update(xref="paper", yref="paper", showarrow=False)

shapes = [
    dict(type="line", xref="paper", yref="paper", x0=0, x1=1, y0=1, y1=1,
         line=dict(color="black", width=2)),
    dict(type="rect", xref="paper", yref="paper", layer="above",
         x0=px(480.5), x1=px(718.5), y0=py(198.5), y1=py(109),
         fillcolor="white", line=dict(color="black", width=1.5)),
]

GRID_DASH = "2px,8px"

fig.update_layout(
    width=1200, height=927,
    margin=dict(l=PL, r=1200 - PR, t=PT, b=927 - PB, autoexpand=False),
    paper_bgcolor="white", plot_bgcolor="white",
    showlegend=False,
    hovermode=False,
    font=dict(family=FONT, color="black"),
    xaxis=dict(type="date", range=[times[0], times[-1]], tickvals=tick_dates,
               ticktext=tick_labels, ticks="outside", ticklen=5, tickwidth=1,
               tickcolor="black", showgrid=False, zeroline=False, showline=True,
               linewidth=3, linecolor="black", tickfont=dict(size=14),
               ticklabelstandoff=-5, automargin=False),
    yaxis=dict(range=[-30, 30], tick0=-30, dtick=5, ticks="outside", ticklen=6,
               tickwidth=1, tickcolor="black", showgrid=True, gridcolor="#9a9a9a",
               griddash=GRID_DASH, gridwidth=1.5, zeroline=False, showline=True,
               linewidth=3, linecolor="black", tickfont=dict(size=15),
               automargin=False),
    yaxis2=dict(range=[0, 2], tick0=0, dtick=0.2, overlaying="y", side="right",
                ticks="outside", ticklen=5, tickwidth=1, tickcolor="black",
                showgrid=False, zeroline=False, showline=True, linewidth=3,
                linecolor="black", tickfont=dict(size=15), automargin=False),
    shapes=shapes,
    annotations=annotations,
)

# remove the browser's default 8 px page margin so the figure fills the window exactly
fig.write_html("out.html",
               config={"displayModeBar": False, "staticPlot": True},
               post_script="document.body.style.margin='0px';"
                           "document.body.style.overflow='hidden';")
